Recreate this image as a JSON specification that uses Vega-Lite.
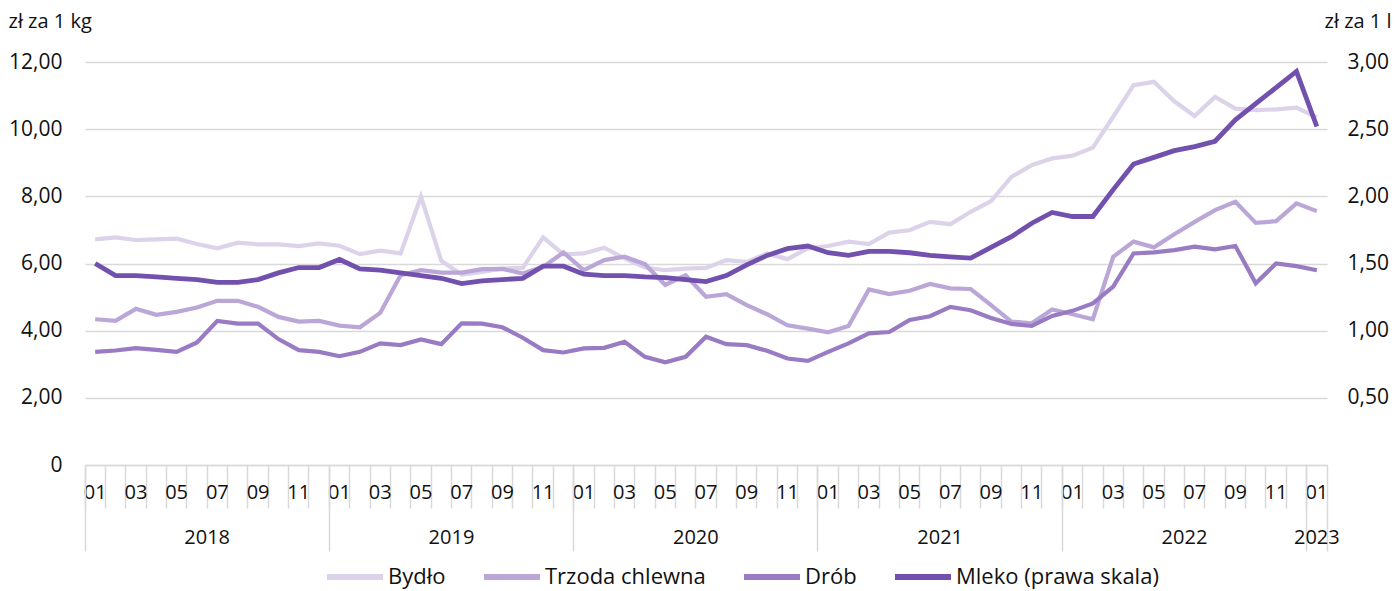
{
  "$schema": "https://vega.github.io/schema/vega-lite/v6.json",
  "width": 1242,
  "height": 403,
  "autosize": {"type": "none"},
  "padding": {"left": 85, "top": 62, "right": 70, "bottom": 126},
  "background": "white",
  "config": {
    "view": {"stroke": null},
    "font": "Open Sans",
    "axis": {"labelFont": "Open Sans", "titleFont": "Open Sans", "labelColor": "#111111", "titleColor": "#111111", "titleFontWeight": "normal"},
    "legend": {"labelFont": "Open Sans", "labelColor": "#111111"}
  },
  "data": {
    "values": [
      {"m": "2018-01", "b": 6.72, "t": 4.34, "d": 3.37, "ml": 1.50},
      {"m": "2018-02", "b": 6.78, "t": 4.29, "d": 3.41, "ml": 1.41},
      {"m": "2018-03", "b": 6.70, "t": 4.65, "d": 3.48, "ml": 1.41},
      {"m": "2018-04", "b": 6.72, "t": 4.47, "d": 3.43, "ml": 1.40},
      {"m": "2018-05", "b": 6.74, "t": 4.56, "d": 3.37, "ml": 1.39},
      {"m": "2018-06", "b": 6.58, "t": 4.69, "d": 3.65, "ml": 1.38},
      {"m": "2018-07", "b": 6.45, "t": 4.89, "d": 4.29, "ml": 1.36},
      {"m": "2018-08", "b": 6.62, "t": 4.89, "d": 4.21, "ml": 1.36},
      {"m": "2018-09", "b": 6.57, "t": 4.71, "d": 4.21, "ml": 1.38},
      {"m": "2018-10", "b": 6.57, "t": 4.41, "d": 3.75, "ml": 1.43},
      {"m": "2018-11", "b": 6.52, "t": 4.27, "d": 3.42, "ml": 1.47},
      {"m": "2018-12", "b": 6.60, "t": 4.29, "d": 3.37, "ml": 1.47},
      {"m": "2019-01", "b": 6.53, "t": 4.15, "d": 3.24, "ml": 1.53},
      {"m": "2019-02", "b": 6.28, "t": 4.10, "d": 3.37, "ml": 1.46},
      {"m": "2019-03", "b": 6.38, "t": 4.53, "d": 3.62, "ml": 1.45},
      {"m": "2019-04", "b": 6.30, "t": 5.65, "d": 3.57, "ml": 1.43},
      {"m": "2019-05", "b": 7.99, "t": 5.80, "d": 3.74, "ml": 1.41},
      {"m": "2019-06", "b": 6.08, "t": 5.73, "d": 3.60, "ml": 1.39},
      {"m": "2019-07", "b": 5.67, "t": 5.73, "d": 4.22, "ml": 1.35},
      {"m": "2019-08", "b": 5.75, "t": 5.83, "d": 4.21, "ml": 1.37},
      {"m": "2019-09", "b": 5.85, "t": 5.84, "d": 4.10, "ml": 1.38},
      {"m": "2019-10", "b": 5.87, "t": 5.70, "d": 3.79, "ml": 1.39},
      {"m": "2019-11", "b": 6.78, "t": 5.90, "d": 3.42, "ml": 1.48},
      {"m": "2019-12", "b": 6.27, "t": 6.33, "d": 3.35, "ml": 1.48},
      {"m": "2020-01", "b": 6.30, "t": 5.80, "d": 3.47, "ml": 1.42},
      {"m": "2020-02", "b": 6.47, "t": 6.10, "d": 3.49, "ml": 1.41},
      {"m": "2020-03", "b": 6.15, "t": 6.20, "d": 3.67, "ml": 1.41},
      {"m": "2020-04", "b": 5.88, "t": 5.98, "d": 3.22, "ml": 1.40},
      {"m": "2020-05", "b": 5.80, "t": 5.36, "d": 3.06, "ml": 1.395},
      {"m": "2020-06", "b": 5.85, "t": 5.65, "d": 3.22, "ml": 1.38},
      {"m": "2020-07", "b": 5.87, "t": 5.01, "d": 3.82, "ml": 1.365},
      {"m": "2020-08", "b": 6.10, "t": 5.09, "d": 3.60, "ml": 1.41},
      {"m": "2020-09", "b": 6.05, "t": 4.76, "d": 3.57, "ml": 1.49},
      {"m": "2020-10", "b": 6.30, "t": 4.49, "d": 3.40, "ml": 1.56},
      {"m": "2020-11", "b": 6.13, "t": 4.16, "d": 3.17, "ml": 1.61},
      {"m": "2020-12", "b": 6.45, "t": 4.06, "d": 3.10, "ml": 1.63},
      {"m": "2021-01", "b": 6.52, "t": 3.95, "d": 3.37, "ml": 1.58},
      {"m": "2021-02", "b": 6.65, "t": 4.14, "d": 3.62, "ml": 1.56},
      {"m": "2021-03", "b": 6.58, "t": 5.23, "d": 3.92, "ml": 1.59},
      {"m": "2021-04", "b": 6.92, "t": 5.09, "d": 3.96, "ml": 1.59},
      {"m": "2021-05", "b": 6.99, "t": 5.19, "d": 4.32, "ml": 1.58},
      {"m": "2021-06", "b": 7.24, "t": 5.39, "d": 4.43, "ml": 1.56},
      {"m": "2021-07", "b": 7.17, "t": 5.26, "d": 4.71, "ml": 1.55},
      {"m": "2021-08", "b": 7.54, "t": 5.24, "d": 4.61, "ml": 1.54},
      {"m": "2021-09", "b": 7.86, "t": 4.76, "d": 4.38, "ml": 1.62},
      {"m": "2021-10", "b": 8.58, "t": 4.27, "d": 4.20, "ml": 1.70},
      {"m": "2021-11", "b": 8.93, "t": 4.22, "d": 4.14, "ml": 1.80},
      {"m": "2021-12", "b": 9.13, "t": 4.63, "d": 4.44, "ml": 1.88},
      {"m": "2022-01", "b": 9.21, "t": 4.49, "d": 4.59, "ml": 1.85},
      {"m": "2022-02", "b": 9.45, "t": 4.34, "d": 4.81, "ml": 1.85},
      {"m": "2022-03", "b": 10.37, "t": 6.20, "d": 5.31, "ml": 2.05},
      {"m": "2022-04", "b": 11.31, "t": 6.65, "d": 6.30, "ml": 2.24},
      {"m": "2022-05", "b": 11.41, "t": 6.48, "d": 6.33, "ml": 2.29},
      {"m": "2022-06", "b": 10.83, "t": 6.87, "d": 6.40, "ml": 2.34},
      {"m": "2022-07", "b": 10.39, "t": 7.24, "d": 6.50, "ml": 2.37},
      {"m": "2022-08", "b": 10.96, "t": 7.59, "d": 6.42, "ml": 2.41},
      {"m": "2022-09", "b": 10.61, "t": 7.84, "d": 6.52, "ml": 2.57},
      {"m": "2022-10", "b": 10.57, "t": 7.21, "d": 5.41, "ml": 2.69},
      {"m": "2022-11", "b": 10.59, "t": 7.26, "d": 6.00, "ml": 2.81},
      {"m": "2022-12", "b": 10.64, "t": 7.79, "d": 5.92, "ml": 2.93},
      {"m": "2023-01", "b": 10.35, "t": 7.56, "d": 5.80, "ml": 2.52}
    ]
  },
  "layer": [
    {
      "mark": {"type": "line", "strokeWidth": 4.2},
      "encoding": {
        "x": {
          "field": "m", "type": "ordinal",
          "scale": {"type": "band", "paddingInner": 0, "paddingOuter": 0},
          "axis": {
            "orient": "bottom",
            "title": null, "bandPosition": 0, "tickSize": 43, "tickColor": "#d9d9d9", "tickWidth": 1.5,
            "domainColor": "#d9d9d9", "domainWidth": 1.5, "grid": false,
            "labelExpr": "toNumber(slice(datum.value,5)) % 2 == 1 ? slice(datum.value,5) : ''",
            "labelAngle": 0, "labelFontSize": 20, "labelPadding": -26, "labelBaseline": "top", "labelOverlap": false
          }
        },
        "y": {
          "field": "b", "type": "quantitative",
          "scale": {"domain": [0, 12], "nice": false},
          "axis": {
            "values": [0, 2, 4, 6, 8, 10, 12],
            "labelExpr": "datum.value == 0 ? '0' : replace(format(datum.value,'.2f'),'.',',')",
            "grid": true, "gridColor": "#d9d9d9", "gridWidth": 1.5, "domain": false, "ticks": false,
            "labelPadding": 23, "labelFontSize": 21,
            "title": "zł za 1 kg", "titleAngle": 0, "titleAlign": "left", "titleBaseline": "alphabetic",
            "titleX": -77, "titleY": -35, "titleFontSize": 20
          }
        },
        "color": {
          "datum": "Bydło", "type": "nominal",
          "scale": {"domain": ["Bydło", "Trzoda chlewna", "Drób", "Mleko (prawa skala)"], "range": ["#DCD3EA", "#BAA7D8", "#987BC3", "#7250AE"]},
          "legend": {
            "orient": "none", "legendX": 239, "legendY": 484, "direction": "horizontal", "title": null,
            "symbolType": "stroke", "symbolSize": 3136, "symbolStrokeWidth": 6, "labelFontSize": 22,
            "labelLimit": 400, "labelOffset": 2, "columnPadding": 26
          }
        }
      }
    },
    {
      "mark": {"type": "line", "strokeWidth": 4.2},
      "encoding": {
        "x": {
          "field": "m", "type": "ordinal",
          "scale": {"type": "band", "paddingInner": 0, "paddingOuter": 0},
          "axis": {
            "orient": "bottom",
            "title": null, "values": ["2018-01", "2019-01", "2020-01", "2021-01", "2022-01", "2023-01"],
            "bandPosition": 0, "tickSize": 86, "tickColor": "#d9d9d9", "tickWidth": 1.5,
            "labels": false, "domain": false, "grid": false
          }
        },
        "y": {"field": "t", "type": "quantitative", "scale": {"domain": [0, 12], "nice": false}, "axis": null},
        "color": {
          "datum": "Trzoda chlewna", "type": "nominal",
          "scale": {"domain": ["Bydło", "Trzoda chlewna", "Drób", "Mleko (prawa skala)"], "range": ["#DCD3EA", "#BAA7D8", "#987BC3", "#7250AE"]}
        }
      }
    },
    {
      "mark": {"type": "line", "strokeWidth": 4.2},
      "encoding": {
        "x": {
          "field": "m", "type": "ordinal",
          "scale": {"type": "band", "paddingInner": 0, "paddingOuter": 0},
          "axis": {
            "orient": "bottom",
            "title": null, "values": ["2018-07", "2019-07", "2020-07", "2021-07", "2022-07"],
            "bandPosition": 0,
            "ticks": false, "domain": false, "grid": false,
            "labelExpr": "slice(datum.value,0,4)", "labelAngle": 0, "labelFontSize": 20,
            "labelBaseline": "top", "labelPadding": 62, "labelOverlap": false, "labelOffset": -10.18
          }
        },
        "y": {"field": "d", "type": "quantitative", "scale": {"domain": [0, 12], "nice": false}, "axis": null},
        "color": {
          "datum": "Drób", "type": "nominal",
          "scale": {"domain": ["Bydło", "Trzoda chlewna", "Drób", "Mleko (prawa skala)"], "range": ["#DCD3EA", "#BAA7D8", "#987BC3", "#7250AE"]}
        }
      }
    },
    {
      "mark": {"type": "line", "strokeWidth": 4.8},
      "encoding": {
        "x": {
          "field": "m", "type": "ordinal",
          "scale": {"type": "band", "paddingInner": 0, "paddingOuter": 0},
          "axis": {
            "orient": "bottom",
            "title": null, "values": ["2023-01"],
            "bandPosition": 1, "ticks": true, "tickSize": 86, "tickColor": "#d9d9d9", "tickWidth": 1.5,
            "domain": false, "grid": false,
            "labelExpr": "slice(datum.value,0,4)", "labelAngle": 0, "labelFontSize": 20,
            "labelBaseline": "top", "labelPadding": -24, "labelOverlap": false
          }
        },
        "y": {
          "field": "ml", "type": "quantitative",
          "scale": {"domain": [0, 3], "nice": false},
          "axis": {
            "orient": "right", "values": [0, 0.5, 1, 1.5, 2, 2.5, 3],
            "labelExpr": "datum.value == 0 ? '' : replace(format(datum.value,'.2f'),'.',',')",
            "grid": false, "domain": false, "ticks": false, "labelPadding": 20, "labelFontSize": 21,
            "title": "zł za 1 l", "titleAngle": 0, "titleAlign": "right", "titleBaseline": "alphabetic",
            "titleX": 64, "titleY": -35, "titleFontSize": 20
          }
        },
        "color": {
          "datum": "Mleko (prawa skala)", "type": "nominal",
          "scale": {"domain": ["Bydło", "Trzoda chlewna", "Drób", "Mleko (prawa skala)"], "range": ["#DCD3EA", "#BAA7D8", "#987BC3", "#7250AE"]}
        }
      }
    }
  ],
  "resolve": {"scale": {"y": "independent"}, "axis": {"x": "independent", "y": "independent"}}
}
